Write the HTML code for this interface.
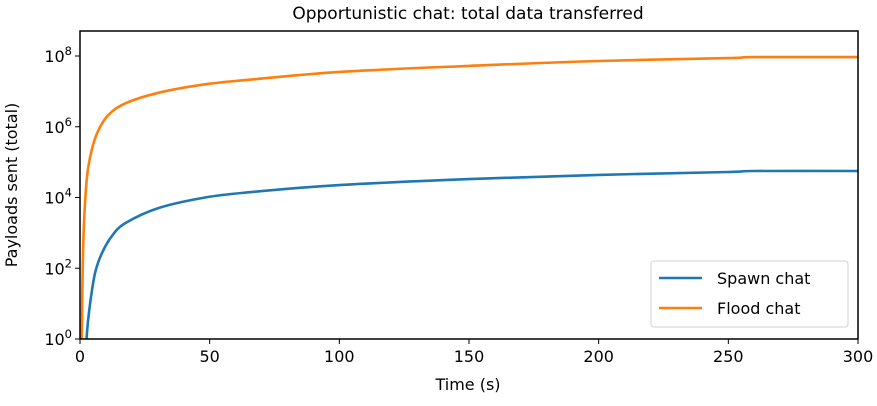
<!DOCTYPE html>
<html><head><meta charset="utf-8"><style>body{margin:0;background:#fff}svg{font-family:"DejaVu Sans","Liberation Sans",sans-serif}</style></head>
<body>
<svg width="877" height="401" viewBox="0 0 877 401">
<g id="g"></g>
</svg>
<script>
const xTicks=[0,50,100,150,200,250,300];
const yTicks=[0,2,4,6,8];
const floodT=[0.3,0.65,1.3,2.6,4.5,7.1,10.9,17.4,30.2,48.2,65.5,100,150,200,250,260,300];
const floodV=[-1,0.07,2.8,4.5,5.34,5.9,6.33,6.66,6.96,7.2,7.33,7.55,7.72,7.86,7.94,7.97,7.97];
const spawnT=[2.3,2.6,3.9,5.8,8.4,12.2,17.4,30.2,48.2,65.5,100,150,200,250,260,300];
const spawnV=[-0.8,0.07,1.0,1.86,2.42,2.9,3.27,3.7,4.0,4.15,4.35,4.52,4.64,4.72,4.75,4.75];
const L=80,R=858,T=31,B=339;
const X=t=>L+(t/300)*(R-L);
const Y=v=>B-v*(B-56)/8;
const ns="http://www.w3.org/2000/svg",g=document.getElementById('g');
function mk(tag,a,txt){const e=document.createElementNS(ns,tag);for(const k in a)e.setAttribute(k,a[k]);if(txt!==undefined)e.textContent=txt;g.appendChild(e);return e;}
let e;
e=mk('text',{x:468,y:19,'font-size':17,'text-anchor':'middle'},'Opportunistic chat: total data transferred');


xTicks.forEach(t=>{mk('line',{x1:X(t),x2:X(t),y1:B,y2:B+5,stroke:'#000','stroke-width':1});
e=mk('text',{x:X(t),y:B+23,'font-size':16,'text-anchor':'middle'},String(t));

});
yTicks.forEach(v=>{mk('line',{x1:L-5,x2:L,y1:Y(v),y2:Y(v),stroke:'#000','stroke-width':1});
e=mk('text',{x:L-8,y:Y(v)+6,'font-size':16,'text-anchor':'end'});
e.innerHTML='10<tspan dy="-7" font-size="11.5">'+v+'</tspan>';

});
e=mk('text',{x:468,y:390,'font-size':16,'text-anchor':'middle'},'Time (s)');


e=mk('text',{x:0,y:0,'font-size':16,'text-anchor':'middle',transform:'translate(17,185) rotate(-90)'},'Payloads sent (total)');


const cp=mk('clipPath',{id:'cp'});const r=document.createElementNS(ns,'rect');r.setAttribute('x',L);r.setAttribute('y',T);r.setAttribute('width',R-L);r.setAttribute('height',B-T);cp.appendChild(r);
function line(ts,vs,c,name){
const p=ts.map((t,i)=>[X(t),Y(vs[i])]);
let d=`M${p[0][0].toFixed(1)},${p[0][1].toFixed(1)}`;
for(let i=0;i<p.length-1;i++){const p0=p[Math.max(0,i-1)],p1=p[i],p2=p[i+1],p3=p[Math.min(p.length-1,i+2)];
const c1=[p1[0]+(p2[0]-p0[0])/6,p1[1]+(p2[1]-p0[1])/6],c2=[p2[0]-(p3[0]-p1[0])/6,p2[1]-(p3[1]-p1[1])/6];
d+=`C${c1[0].toFixed(1)},${c1[1].toFixed(1)} ${c2[0].toFixed(1)},${c2[1].toFixed(1)} ${p2[0].toFixed(1)},${p2[1].toFixed(1)}`;}
e=mk('path',{d:d,fill:'none',stroke:c,'stroke-width':2.6,'clip-path':'url(#cp)','stroke-linejoin':'round'});

}
line(spawnT,spawnV,'#1f77b4','spawn-chat-line');
line(floodT,floodV,'#ff7f0e','flood-chat-line');
e=mk('rect',{x:L,y:T,width:R-L,height:B-T,fill:'none',stroke:'#000','stroke-width':1.5});


e=mk('rect',{x:651,y:261,width:197,height:66,rx:3,fill:'#fff',stroke:'#ccc','stroke-width':1,opacity:0.9});


[['Spawn chat','#1f77b4',278],['Flood chat','#ff7f0e',308]].forEach(([n,c,y])=>{
mk('line',{x1:659,x2:702,y1:y,y2:y,stroke:c,'stroke-width':2.6});
e=mk('text',{x:717,y:y+6,'font-size':16},n);

});
</script>
</body></html>
